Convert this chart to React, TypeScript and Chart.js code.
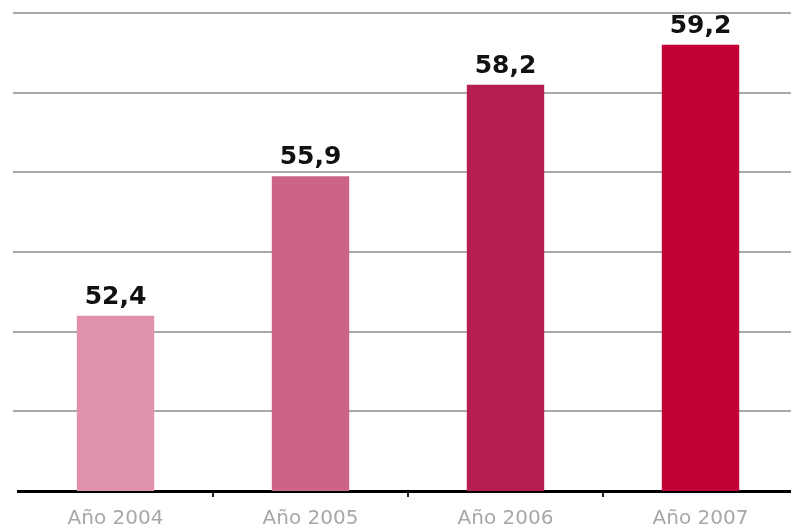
import React, { useEffect, useRef } from "react";
import { Chart, registerables } from "chart.js";

Chart.register(...registerables);

const categories = ["Año 2004", "Año 2005", "Año 2006", "Año 2007"];
const values = [52.4, 55.9, 58.2, 59.2];
const valueLabels = ["52,4", "55,9", "58,2", "59,2"];
const barColors = ["#e092ab", "#cc6489", "#b51f50", "#c20235"];
const yMin = 48;
const yMax = 60;
const yStep = 2;

const valueLabelPlugin = {
  id: "valueLabels",
  afterDatasetsDraw(chart: any) {
    const ctx = chart.ctx;
    const meta = chart.getDatasetMeta(0);
    ctx.save();
    ctx.font = "bold 25px 'DejaVu Sans'";
    ctx.fillStyle = "#111";
    ctx.textAlign = "center";
    ctx.textBaseline = "alphabetic";
    meta.data.forEach((bar: any, i: number) => {
      ctx.fillText(valueLabels[i], bar.x, bar.y - 12);
    });
    ctx.restore();
  },
};

export default function App() {
  const ref = useRef<HTMLCanvasElement | null>(null);
  useEffect(() => {
    if (!ref.current) return;
    const chart = new Chart(ref.current, {
      type: "bar",
      data: {
        labels: categories,
        datasets: [
          {
            data: values,
            backgroundColor: barColors,
            borderColor: barColors,
            borderWidth: 0,
            categoryPercentage: 1,
            barPercentage: 0.397,
          },
        ],
      },
      options: {
        animation: false,
        responsive: false,
        maintainAspectRatio: false,
        layout: { padding: { top: 13, left: 0, right: 0, bottom: 0 } },
        plugins: {
          legend: { display: false },
          tooltip: { enabled: false },
        },
        scales: {
          x: {
            offset: true,
            grid: {
              offset: true,
              drawOnChartArea: false,
              drawTicks: true,
              tickLength: 6,
              lineWidth: 2,
              color: (c: any) => (c.index === 0 ? "rgba(0,0,0,0)" : "#222"),
            },
            border: { display: true, color: "#000", width: 3 },
            ticks: {
              color: "#a8a8a8",
              font: { family: "'DejaVu Sans'", size: 20 },
              padding: 10,
            },
            afterFit: (s: any) => {
              s.height = 40;
            },
          },
          y: {
            min: yMin,
            max: yMax,
            ticks: { display: false, stepSize: yStep },
            border: { display: false },
            grid: {
              drawTicks: true,
              tickLength: 5,
              lineWidth: 2,
              color: (c: any) =>
                c.tick && c.tick.value === yMin ? "rgba(0,0,0,0)" : "#a8a8a8",
            },
            afterFit: (s: any) => {
              s.width = 18;
            },
          },
        },
      },
      plugins: [valueLabelPlugin],
    });
    return () => chart.destroy();
  }, []);
  return (
    <div
      style={{
        position: "fixed",
        left: 0,
        top: 0,
        width: 791,
        height: 531,
        overflow: "hidden",
        background: "#fff",
      }}
    >
      <canvas ref={ref} width={798} height={531} style={{ display: "block" }} />
    </div>
  );
}
